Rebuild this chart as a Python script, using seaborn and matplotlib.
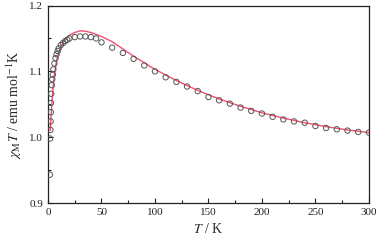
import matplotlib
matplotlib.use('Agg')
import matplotlib.pyplot as plt
import seaborn as sns
import pandas as pd
from matplotlib.ticker import MultipleLocator

sns.set_style('ticks')
plt.rcParams['font.family'] = ['Liberation Serif', 'DejaVu Serif']
plt.rcParams['mathtext.fontset'] = 'stix'

# Experimental chi_M T data
temp_exp = [1.8, 2.0, 2.2, 2.4, 2.6, 2.8, 3.0, 3.5, 4, 4.5, 5, 6, 7, 8, 9, 10, 12, 14, 16, 18,
            20, 25, 30, 35, 40, 45, 50, 60, 70, 80, 90, 100, 110, 120, 130, 140, 150, 160,
            170, 180, 190, 200, 210, 220, 230, 240, 250, 260, 270, 280, 290, 300]
chi_exp = [0.943, 0.998, 1.011, 1.024, 1.038, 1.052, 1.066, 1.079, 1.088, 1.095, 1.103, 1.112,
           1.120, 1.126, 1.131, 1.135, 1.140, 1.143, 1.146, 1.148, 1.150, 1.152, 1.153, 1.153,
           1.152, 1.150, 1.144, 1.136, 1.128, 1.119, 1.109, 1.100, 1.091, 1.084, 1.077, 1.070,
           1.061, 1.056, 1.051, 1.045, 1.040, 1.036, 1.031, 1.027, 1.024, 1.022, 1.017, 1.014,
           1.012, 1.010, 1.008, 1.007]

# Fitted curve
temp_fit = [2, 3, 4, 5, 6, 8, 10, 12, 15, 20, 25, 30, 35, 40, 50, 60, 70, 80, 90, 100,
            120, 140, 160, 180, 200, 220, 240, 260, 280, 300]
chi_fit = [1.010, 1.035, 1.060, 1.080, 1.095, 1.116, 1.128, 1.137, 1.146, 1.155, 1.159,
           1.1615, 1.161, 1.159, 1.153, 1.145, 1.134, 1.123, 1.113, 1.103, 1.086, 1.071,
           1.058, 1.047, 1.037, 1.029, 1.022, 1.016, 1.011, 1.007]

exp = pd.DataFrame({'T': temp_exp, 'chi': chi_exp})
fit = pd.DataFrame({'T': temp_fit, 'chi': chi_fit})

fig = plt.figure(figsize=(3.78, 2.4), dpi=100)
ax = fig.add_axes([0.127, 0.154, 0.849, 0.823])

sns.lineplot(data=fit, x='T', y='chi', color='#f0506e', linewidth=1.0, ax=ax, zorder=2)
sns.scatterplot(data=exp, x='T', y='chi', marker='o', s=15, facecolor='none',
                edgecolor='#555555', linewidth=0.7, ax=ax, zorder=3)

ax.set_xlim(0, 300)
ax.set_ylim(0.9, 1.2)
ax.xaxis.set_major_locator(MultipleLocator(50))
ax.xaxis.set_minor_locator(MultipleLocator(25))
ax.yaxis.set_major_locator(MultipleLocator(0.1))
ax.yaxis.set_minor_locator(MultipleLocator(0.05))
ax.tick_params(which='both', direction='in', labelsize=8, width=0.8, colors='#222222')
ax.tick_params(which='major', length=3.5)
ax.tick_params(which='minor', length=2)
for sp in ax.spines.values():
    sp.set_linewidth(0.9)
    sp.set_color('#222222')

ax.set_xlabel(r'$T$ / K', fontsize=10)
ax.set_ylabel(r'$\chi_{\rm M}T$ / emu mol$^{-1}$K', fontsize=10)

fig.savefig('out.png', dpi=100)
